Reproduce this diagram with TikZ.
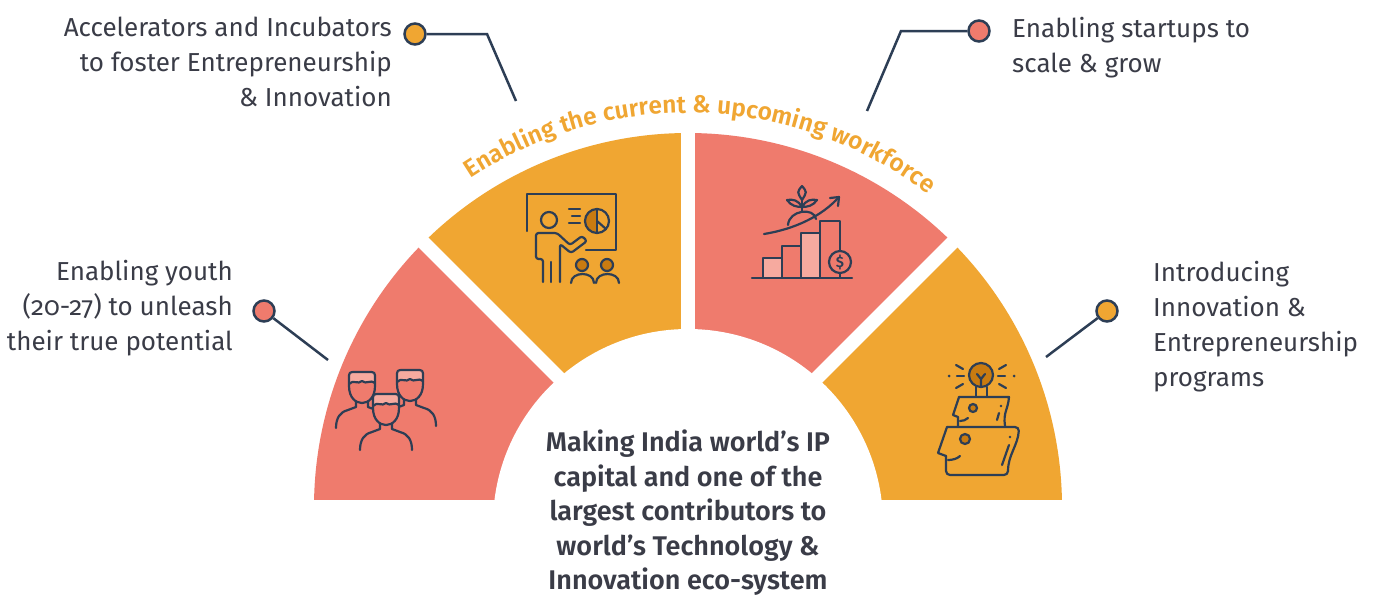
\documentclass[tikz,border=0pt]{standalone}
\usepackage{fontspec}
\setmainfont{Fira Sans}[Numbers=OldStyle]
\newfontfamily\semib{Fira Sans SemiBold}[Numbers=OldStyle]
\usetikzlibrary{decorations.text}
\definecolor{salmon}{HTML}{EF7B6D}
\definecolor{amber}{HTML}{F0A632}
\definecolor{navy}{HTML}{2D3E55}
\definecolor{txt}{HTML}{3A3C47}
\definecolor{darkamber}{HTML}{C97B10}
\definecolor{lightpink}{HTML}{F6AA9F}
\tikzset{
  icon/.style={draw=navy, line width=2.2pt, line cap=round, line join=round},
  conn/.style={draw=navy, line width=2.5pt},
  dot/.style={circle, draw=navy, line width=2.5pt, minimum size=21pt, inner sep=0pt},
  lbl/.style={text=txt, font=\fontsize{26}{35}\selectfont, inner sep=0pt},
  gap/.style={draw=white, line width=14pt}
}
\newcommand\personicon[2]{%
  \fill[salmon] (#1-13,#2+12) -- (#1-13,#2+7) .. controls (#1-13,#2) .. (#1-6,#2) -- (#1+6,#2) .. controls (#1+13,#2) .. (#1+13,#2+7) -- (#1+13,#2+14) .. controls (#1+13,#2+26) and (#1+6,#2+31) .. (#1+6,#2+31) -- (#1+6,#2+35) -- (#1+14,#2+38) .. controls (#1+22,#2+40) and (#1+26,#2+46) .. (#1+26,#2+56) -- (#1-26,#2+56) .. controls (#1-26,#2+46) and (#1-22,#2+40) .. (#1-14,#2+38) -- (#1-6,#2+35) -- (#1-6,#2+31) .. controls (#1-6,#2+31) and (#1-13,#2+26) .. (#1-13,#2+14) -- cycle;
  \fill[lightpink] (#1-13,#2+12) -- (#1-13,#2+7) .. controls (#1-13,#2) .. (#1-6,#2) -- (#1+6,#2) .. controls (#1+13,#2) .. (#1+13,#2+7) -- (#1+13,#2+11) .. controls (#1+9,#2+7) and (#1+4,#2+13) .. (#1,#2+9) .. controls (#1-4,#2+13) and (#1-9,#2+7) .. (#1-13,#2+12) -- cycle;
  \draw[icon] (#1-13,#2+14) -- (#1-13,#2+7) .. controls (#1-13,#2) .. (#1-6,#2) -- (#1+6,#2) .. controls (#1+13,#2) .. (#1+13,#2+7) -- (#1+13,#2+14) .. controls (#1+13,#2+26) and (#1+6,#2+31) .. (#1,#2+31) .. controls (#1-6,#2+31) and (#1-13,#2+26) .. (#1-13,#2+14);
  \draw[icon] (#1+13,#2+11) .. controls (#1+9,#2+7) and (#1+4,#2+13) .. (#1,#2+9) .. controls (#1-4,#2+13) and (#1-9,#2+7) .. (#1-13,#2+12);
  \draw[icon] (#1-6,#2+30) -- (#1-6,#2+35) -- (#1-14,#2+38) .. controls (#1-22,#2+40) and (#1-26,#2+46) .. (#1-26,#2+56);
  \draw[icon] (#1+6,#2+30) -- (#1+6,#2+35) -- (#1+14,#2+38) .. controls (#1+22,#2+40) and (#1+26,#2+46) .. (#1+26,#2+56);
}
\begin{document}
\begin{tikzpicture}[x=1pt,y=-1pt]
\useasboundingbox (0,0) rectangle (1375,595);
\fill[white] (0,0) rectangle (1375,595);

% ---- half ring ----
\begin{scope}
\clip (0,0) rectangle (1375,499);
\fill[salmon] (688,507) -- ++(-180:374) arc[start angle=-180,end angle=-135,radius=374] -- cycle;
\fill[amber]  (688,507) -- ++(-135:374) arc[start angle=-135,end angle=-90,radius=374] -- cycle;
\fill[salmon] (688,507) -- ++(-90:374) arc[start angle=-90,end angle=-45,radius=374] -- cycle;
\fill[amber]  (688,507) -- ++(-45:374) arc[start angle=-45,end angle=0,radius=374] -- cycle;
\draw[gap] (688,507) -- ++(-135:420);
\draw[gap] (688,507) -- ++(-90:420);
\draw[gap] (688,507) -- ++(-45:420);
\end{scope}
\fill[white] (688,524) circle[radius=195];

% ---- curved title ----
\path[decorate, decoration={text along path, text align=center, text color=amber,
  text={|\fontsize{24.5}{24.5}\semib|Enabling the current {\&} upcoming workforce}}]
  (688,507) ++(-128:394) arc[start angle=-128,end angle=-48,radius=394];

% ---- centre text ----
\node[text=txt, font=\fontsize{27}{34.5}\semib, inner sep=0pt, align=center, anchor=north] (centre) at (688,430)
 {Making India world’s IP\\capital and one of the\\largest contributors to\\world’s Technology \&\\Innovation eco-system};

% ---- labels ----
\node[lbl, align=right, anchor=north east] (t1) at (392,17) {Accelerators and Incubators\\to foster Entrepreneurship\\\& Innovation};
\node[lbl, align=left, anchor=north west] (t2) at (1012,17) {Enabling startups to\\scale \& grow};
\node[lbl, align=right, anchor=north east] (t3) at (233,260) {Enabling youth\\(20-27) to unleash\\their true potential};
\node[lbl, align=left, anchor=north west] (t4) at (1153,261) {Introducing\\Innovation \&\\Entrepreneurship\\programs};

% ---- callouts ----
\coordinate (k1) at (487,34);
\coordinate (e1) at (516,101);
\coordinate (k2) at (901,31);
\coordinate (e2) at (867,111);
\coordinate (e3) at (328,360);
\coordinate (e4) at (1046,357);
\node[dot, fill=amber] (c1) at (415,34) {};
\node[dot, fill=salmon] (c2) at (979,31) {};
\node[dot, fill=salmon] (c3) at (264,311) {};
\node[dot, fill=amber] (c4) at (1107,311) {};
\draw[conn] (c1) -- (k1) -- (e1);
\draw[conn] (c2) -- (k2) -- (e2);
\draw[conn] (c3) -- (e3);
\draw[conn] (c4) -- (e4);

% ---- icon: presentation ----
\draw[icon] (527,231) -- (527,194) -- (616,194) -- (616,250) -- (586,250);
\fill[amber] (597,221) circle[radius=12];
\fill[darkamber] (597,209) arc[start angle=-90,end angle=-270,radius=12] -- cycle;
\draw[icon] (597,221) circle[radius=12];
\draw[icon] (597,209) -- (597,233);
\draw[icon] (597,221) -- (606,229);
\draw[icon] (569,209) -- (580,209);
\draw[icon] (572,216) -- (580,216);
\draw[icon] (569,223) -- (580,223);
\draw[icon] (549,220) circle[radius=8];
\draw[icon, rounded corners=2.5pt] (543,282) -- (543,259) -- (536,259) -- (536,233) -- (557,233) -- (570,245) -- (582,236) -- (587,241) -- (571,253) -- (560,244) -- (560,282);
\draw[icon] (551,262) -- (551,282);
\filldraw[icon, fill=darkamber] (582,265) circle[radius=6];
\filldraw[icon, fill=darkamber] (607,265) circle[radius=6];
\draw[icon] (571,283) .. controls (571,271) and (594,271) .. (594,283);
\draw[icon] (596,283) .. controls (596,271) and (619,271) .. (619,283);

% ---- icon: growth ----
\filldraw[icon, fill=lightpink] (763,278) rectangle (782,258);
\filldraw[icon, fill=salmon] (782,278) rectangle (801,246);
\filldraw[icon, fill=lightpink] (801,278) rectangle (820,233);
\filldraw[icon, fill=salmon] (820,278) rectangle (840,221);
\draw[icon] (752,278) -- (852,278);
\filldraw[icon, fill=salmon] (840,262) circle[radius=11];
\node[text=navy, font=\fontsize{15}{15}\semib, inner sep=0pt] (dollar) at (840,262) {\$};
\draw[icon] (764,234) .. controls (795,229) and (822,216) .. (839,197);
\draw[icon] (830,198) -- (839,197) -- (838,206);
\draw[icon] (788,225) .. controls (789,210) and (814,207) .. (816,219);
\draw[icon] (802,212) -- (802,200);
\draw[icon] (802,186) .. controls (797,192) .. (802,200) .. controls (807,192) .. (802,186);
\draw[icon] (802,207) .. controls (798,200) and (793,199) .. (787,200) .. controls (791,206) and (797,207) .. (802,207);
\draw[icon] (802,207) .. controls (806,200) and (811,199) .. (817,200) .. controls (813,206) and (807,207) .. (802,207);

% ---- icon: people ----
\personicon{362}{372}
\personicon{410}{370}
\personicon{386}{394}

% ---- icon: heads with bulb ----
\filldraw[icon, fill=darkamber] (981,375) circle[radius=12];
\draw[icon] (976,387) -- (976,396);
\draw[icon] (987,387) -- (987,396);
\draw[icon] (981,387) -- (981,379) -- (977,374);
\draw[icon] (981,379) -- (985,374);
\draw[icon] (957,376) -- (964,376);
\draw[icon] (998,376) -- (1005,376);
\fill[navy] (949,376) circle[radius=1.5];
\fill[navy] (1014,376) circle[radius=1.5];
\draw[icon] (956,365) -- (963,369);
\draw[icon] (956,388) -- (963,384);
\draw[icon] (1006,365) -- (999,369);
\draw[icon] (1006,388) -- (999,384);
\draw[icon] (959,397) -- (1009,397) .. controls (1008,410) and (1003,412) .. (1005,426);
\draw[icon] (959,397) -- (953,415) -- (958,417) -- (958,426);
\draw[icon] (960,421) .. controls (963,421) and (966,420) .. (968,418);
\filldraw[icon, fill=darkamber] (973,408) circle[radius=4];
\fill[navy] (1001,406) circle[radius=1.3];
\draw[icon] (999,413) -- (997,420);
\draw[icon, rounded corners=4pt] (947,427) -- (1019,427) .. controls (1018,445) and (1008,455) .. (1008,475) -- (946,475) -- (946,456);
\draw[icon] (947,427) -- (938,453) -- (946,456);
\draw[icon] (948,460) .. controls (952,460) and (957,459) .. (960,456);
\filldraw[icon, fill=darkamber] (965,439) circle[radius=5];
\fill[navy] (1010,437) circle[radius=1.3];
\draw[icon] (1009,445) -- (1002,465);
\end{tikzpicture}
\end{document}
